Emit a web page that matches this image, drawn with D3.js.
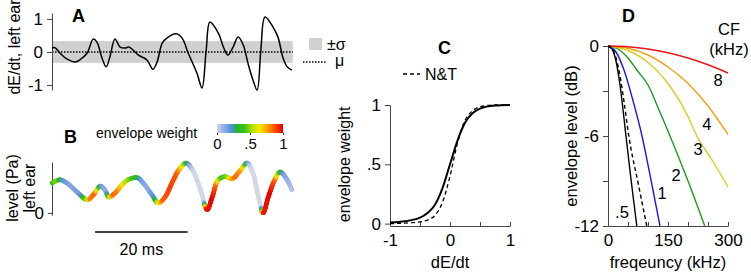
<!DOCTYPE html>
<html>
<head>
<meta charset="utf-8">
<script src="https://cdn.jsdelivr.net/npm/d3@7"></script>
<style>
  body { margin: 0; background: #fff; }
  svg { display: block; }
  text { font-family: 'Liberation Sans', Arial, Helvetica, sans-serif; }
</style>
</head>
<body>
<svg id="fig" width="751" height="274"></svg>
<script>
// ---- panel A: dE/dt of left-ear envelope (time in ms)
var aTime  = [0, 0.65, 1.7, 3.2, 5.0, 6.0, 7.6, 8.9, 9.7, 10.8, 11.7, 12.5, 13.6, 14.7, 15.8, 16.6, 17.5, 18.6, 20.5, 21.8, 22.7, 23.8, 24.8, 26.8, 28.1, 29.4, 31.3, 32.4, 33.3, 34.1, 35.9, 37.1, 38.0, 39.1, 40.2, 41.3, 42.3, 43.4, 44.3, 45.1, 46.0, 47.7, 48.8, 49.9, 50.8, 51.8];
var aSlope = [0.12, 0.13, -0.03, -0.21, -0.30, -0.24, -0.03, 0.39, 0.30, -0.18, -0.45, -0.15, 0.39, 0.15, 0.12, 0.15, 0.06, -0.09, -0.24, -0.52, -0.30, 0.27, 0.42, 0.55, 0.42, -0.03, -0.64, -1.09, 0.06, 0.91, 0.58, 0.12, -0.09, 0.15, 0.45, 0.21, -0.33, -0.85, -1.15, 0.06, 1.06, 0.76, 0.45, -0.18, -0.45, -0.55];
var aMean = 0, aSigma = 0.33;

// ---- panel B: envelope level, coloured by envelope weight
var bTime  = [0, 1.7, 3.2, 5.4, 7.6, 8.9, 10.4, 11.4, 12.3, 13.6, 15.1, 16.4, 18.4, 19.7, 21.6, 22.9, 24.4, 25.9, 27.4, 28.9, 30.2, 32.0, 33.5, 34.6, 35.9, 37.4, 38.9, 40.6, 42.1, 43.4, 44.5, 45.6, 46.7, 48.0, 49.2, 50.5, 51.8];
var bLevel = [0.57, 0.63, 0.57, 0.40, 0.25, 0.34, 0.51, 0.44, 0.30, 0.38, 0.53, 0.63, 0.67, 0.57, 0.34, 0.19, 0.30, 0.57, 0.82, 0.95, 0.84, 0.46, 0.06, 0.30, 0.63, 0.69, 0.65, 0.80, 0.95, 0.76, 0.34, 0.0, 0.30, 0.61, 0.78, 0.67, 0.44];
var wTime   = [0, 1.1, 2.4, 3.9, 6.0, 7.3, 8.2, 9.3, 10.2, 10.8, 11.7, 12.3, 13.2, 14.3, 15.6, 17.1, 18.4, 19.4, 20.7, 22.0, 22.9, 24.0, 25.5, 27.2, 28.3, 29.2, 29.8, 30.7, 32.8, 33.3, 34.6, 35.4, 36.1, 36.7, 38.0, 38.9, 39.7, 41.0, 41.7, 42.3, 43.0, 45.1, 45.6, 47.1, 48.2, 48.8, 49.5, 50.1, 51.8];
var wWeight = [0.40, 0.50, 0.20, 0.12, 0.15, 0.45, 0.80, 0.85, 0.40, 0.15, 0.10, 0.50, 0.85, 0.80, 0.60, 0.45, 0.35, 0.15, 0.10, 0.20, 0.60, 0.85, 0.90, 0.85, 0.60, 0.30, 0.10, 0.0, 0.0, 0.95, 1.0, 0.85, 0.55, 0.40, 0.50, 0.75, 0.85, 0.75, 0.45, 0.15, 0.0, 0.0, 0.95, 1.0, 0.85, 0.55, 0.30, 0.15, 0.05];
var cmapStops  = [0, 0.12, 0.22, 0.3, 0.42, 0.52, 0.64, 0.76, 0.88, 1];
var cmapColors = ["#d3d8e6", "#86a6e4", "#4f8ee0", "#22b42c", "#3cc41c", "#a8dc00", "#f2ec00", "#ffa400", "#ff4a00", "#e60000"];
var scaleBarMs = [9.3, 29.3];

// ---- panel C: weighting function
var cSlope = [-1, -0.75, -0.5, -0.375, -0.25, -0.125, 0, 0.125, 0.25, 0.375, 0.5, 0.75, 1];
var cFit   = [0.01, 0.02, 0.05, 0.09, 0.16, 0.30, 0.50, 0.70, 0.85, 0.93, 0.97, 0.995, 1.0];
var cNT    = [0.0, 0.005, 0.015, 0.03, 0.07, 0.18, 0.40, 0.68, 0.87, 0.95, 0.985, 1.0, 1.0];

// ---- panel D: envelope level vs frequency for each CF (kHz)
var dCF     = [".5", "1", "2", "3", "4", "8"];
var dColors = ["#000000", "#1a1adc", "#1e9a1e", "#d8cc20", "#f5a010", "#e8141c"];
var dFreq = [
  [0, 10, 20, 30, 45, 58, 72],
  [0, 20, 40, 60, 85, 108, 130],
  [0, 25, 50, 75, 100, 125, 155, 200, 242],
  [0, 50, 100, 150, 200, 222, 260, 300],
  [0, 50, 100, 150, 200, 250, 300],
  [0, 50, 100, 150, 200, 250, 300]
];
var dLevel = [
  [0, -0.2, -1.0, -2.6, -6, -9, -12],
  [0, -0.4, -1.6, -3.4, -6, -9, -12],
  [0, -0.2, -0.8, -1.7, -2.6, -4.1, -6, -9, -12],
  [0, -0.3, -1.1, -2.5, -4.7, -6, -7.6, -9.4],
  [0, -0.15, -0.6, -1.4, -2.5, -4.0, -5.9],
  [0, -0.05, -0.2, -0.45, -0.8, -1.25, -1.8]
];
var ntFreq  = [0, 10, 20, 30, 40, 52, 75, 97];
var ntLevel = [0, -0.15, -0.8, -2.0, -3.7, -6, -9.1, -12];
var dLabelFreq  = [35, 135, 170, 225, 247, 275];
var dLabelLevel = [-11.1, -9.8, -8.6, -6.9, -5.2, -2.3];

var svg = d3.select("#fig");
svg.append("rect").attr("width", 751).attr("height", 274).attr("fill", "#fff");

var AX = "#444";
var TICK = 17;
function styleAxis(g, size) {
  g.select(".domain").attr("stroke", AX).attr("stroke-width", 1);
  g.selectAll(".tick line").attr("stroke", AX);
  g.selectAll(".tick text").attr("fill", "#000").style("font-size", (size || TICK) + "px");
  g.attr("font-family", null);
}
function fmt(d) { return String(d).replace(/^0\./, ".").replace(/^-0\./, "-."); }
function label(x, y, txt, size, opts) {
  opts = opts || {};
  var t = svg.append("text").attr("x", x).attr("y", y).text(txt)
    .style("font-size", size + "px").attr("text-anchor", opts.anchor || "start");
  if (opts.bold) t.style("font-weight", "bold");
  if (opts.rotate) t.attr("transform", "rotate(-90," + x + "," + y + ")");
  if (opts.fill) t.attr("fill", opts.fill);
  return t;
}

// ================= A
var xT = d3.scaleLinear().domain([0, 52]).range([52, 292.8]);
var yA = d3.scaleLinear().domain([-1.15, 1.18]).range([90, 13]);

svg.append("rect")
  .attr("x", xT(0)).attr("width", xT(52) - xT(0))
  .attr("y", yA(aSigma)).attr("height", yA(-aSigma) - yA(aSigma))
  .attr("fill", "#d0d0d0");
svg.append("line")
  .attr("x1", xT(0)).attr("x2", xT(52)).attr("y1", yA(aMean)).attr("y2", yA(aMean))
  .attr("stroke", "#000").attr("stroke-width", 1.5).attr("stroke-dasharray", "1.5,1.5");

var gA = svg.append("g").attr("transform", "translate(" + xT(0) + ",0)")
  .call(d3.axisLeft(yA).tickValues([-1, 0, 1]).tickFormat(fmt).tickSize(5).tickSizeOuter(0).tickPadding(4));
styleAxis(gA);

var lineA = d3.line().x(function (d, i) { return xT(aTime[i]); }).y(function (d) { return yA(d); })
  .curve(d3.curveCatmullRom.alpha(0.5));
svg.append("path").attr("d", lineA(aSlope)).attr("fill", "none")
  .attr("stroke", "#000").attr("stroke-width", 1.5);

label(14, 47, "dE/dt, left ear", 16, { anchor: "middle", rotate: true }).attr("dy", "0.35em");
label(72, 22, "A", 18, { bold: true });

// legend A
svg.append("rect").attr("x", 309).attr("y", 38).attr("width", 13).attr("height", 12).attr("fill", "#d0d0d0");
label(327, 50, "\u00b1\u03c3", 16);
svg.append("line").attr("x1", 303).attr("x2", 327).attr("y1", 62).attr("y2", 62)
  .attr("stroke", "#000").attr("stroke-width", 1.5).attr("stroke-dasharray", "1.5,1.5");
label(335, 66, "\u03bc", 16);

// ================= B
var yB = d3.scaleLinear().domain([-0.04, 0.97]).range([215, 162]);
var cmap = d3.scaleLinear().domain(cmapStops).range(cmapColors).clamp(true);
var wAt = d3.scaleLinear().domain(wTime).range(wWeight).clamp(true);

var gB = svg.append("g").attr("transform", "translate(" + xT(0) + ",0)")
  .call(d3.axisLeft(yB).tickValues([0]).tickFormat(fmt).tickSize(4).tickSizeOuter(0).tickPadding(4));
styleAxis(gB);

var lineB = d3.line().x(function (d, i) { return xT(bTime[i]); }).y(function (d) { return yB(d); })
  .curve(d3.curveCatmullRom.alpha(0.5));
var guide = svg.append("path").attr("d", lineB(bLevel)).attr("fill", "none").attr("stroke", "none");
var node = guide.node(), len = node.getTotalLength();
var segs = svg.append("g");
var prev = node.getPointAtLength(0);
for (var s = 1; s <= Math.ceil(len); s++) {
  var p = node.getPointAtLength(Math.min(s, len));
  var w = wAt(xT.invert((prev.x + p.x) / 2));
  segs.append("line").attr("x1", prev.x).attr("y1", prev.y).attr("x2", p.x).attr("y2", p.y)
    .attr("stroke", cmap(w)).attr("stroke-width", 4.5).attr("stroke-linecap", "round");
  prev = p;
}
guide.remove();

label(12, 188, "level (Pa)", 16, { anchor: "middle", rotate: true }).attr("dy", "0.35em");
label(29, 188, "left ear", 16, { anchor: "middle", rotate: true }).attr("dy", "0.35em");
label(64, 143, "B", 18, { bold: true });
label(96, 138, "envelope weight", 14);

// colour bar
var cbX = d3.scaleLinear().domain([0, 1]).range([217, 283]);
var grad = svg.append("defs").append("linearGradient").attr("id", "cb");
cmapStops.forEach(function (v, i) {
  grad.append("stop").attr("offset", (v * 100) + "%").attr("stop-color", cmapColors[i]);
});
svg.append("rect").attr("x", cbX(0)).attr("y", 124).attr("width", cbX(1) - cbX(0)).attr("height", 9)
  .attr("fill", "url(#cb)");
var gCB = svg.append("g").attr("transform", "translate(0,133)")
  .call(d3.axisBottom(cbX).tickValues([0, 0.5, 1]).tickFormat(fmt).tickSize(2).tickSizeOuter(0).tickPadding(3));
gCB.select(".domain").remove();
gCB.selectAll(".tick line").attr("stroke", AX);
gCB.selectAll(".tick text").attr("fill", "#000").style("font-size", "15px");
gCB.attr("font-family", null);

// scale bar
svg.append("line").attr("x1", xT(scaleBarMs[0])).attr("x2", xT(scaleBarMs[1]))
  .attr("y1", 232).attr("y2", 232).attr("stroke", "#000").attr("stroke-width", 1.5);
label((xT(scaleBarMs[0]) + xT(scaleBarMs[1])) / 2, 255, "20 ms", 16, { anchor: "middle" });

// ================= C
var xC = d3.scaleLinear().domain([-1, 1]).range([390, 510]);
var yC = d3.scaleLinear().domain([-0.02, 1]).range([226, 105]);

var gCy = svg.append("g").attr("transform", "translate(" + xC(-1) + ",0)")
  .call(d3.axisLeft(yC).tickValues([0, 0.5, 1]).tickFormat(fmt).tickSize(5).tickSizeOuter(0).tickPadding(4));
styleAxis(gCy);
var gCx = svg.append("g").attr("transform", "translate(0," + yC(-0.02) + ")")
  .call(d3.axisBottom(xC).tickValues([-1, -0.5, 0, 0.5, 1])
    .tickFormat(function (d) { return d % 1 === 0 ? fmt(d) : ""; })
    .tickSize(-4).tickSizeOuter(0).tickPadding(8));
styleAxis(gCx);

var lineC = d3.line().x(function (d, i) { return xC(cSlope[i]); }).y(function (d) { return yC(d); })
  .curve(d3.curveMonotoneX);
svg.append("path").attr("d", lineC(cNT)).attr("fill", "none")
  .attr("stroke", "#000").attr("stroke-width", 1.3).attr("stroke-dasharray", "4,3");
svg.append("path").attr("d", lineC(cFit)).attr("fill", "none")
  .attr("stroke", "#000").attr("stroke-width", 2);

label(350, yC(0.5), "envelope weight", 16, { anchor: "middle", rotate: true });
label(xC(0), 268, "dE/dt", 16.5, { anchor: "middle" });
label(438, 54, "C", 18, { bold: true });
svg.append("line").attr("x1", 403).attr("x2", 420).attr("y1", 74).attr("y2", 74)
  .attr("stroke", "#000").attr("stroke-width", 1.3).attr("stroke-dasharray", "4,3");
label(425, 80, "N&T", 16);

// ================= D
var xD = d3.scaleLinear().domain([0, 300]).range([608, 728]);
var yD = d3.scaleLinear().domain([-12, 0]).range([226, 46]);

var gDy = svg.append("g").attr("transform", "translate(" + xD(0) + ",0)")
  .call(d3.axisLeft(yD).tickValues([-12, -9, -6, -3, 0])
    .tickFormat(function (d) { return d % 6 === 0 ? String(d) : ""; })
    .tickSize(5).tickSizeOuter(0).tickPadding(4));
styleAxis(gDy);
var gDx = svg.append("g").attr("transform", "translate(0," + yD(-12) + ")")
  .call(d3.axisBottom(xD).tickValues([0, 50, 100, 150, 200, 250, 300])
    .tickFormat(function (d) { return d % 150 === 0 ? String(d) : ""; })
    .tickSize(-4).tickSizeOuter(0).tickPadding(8));
styleAxis(gDx);

var lineD = d3.line().x(function (d) { return xD(d[0]); }).y(function (d) { return yD(d[1]); })
  .curve(d3.curveMonotoneX);
dFreq.forEach(function (fr, k) {
  var pts = fr.map(function (f, i) { return [f, dLevel[k][i]]; });
  svg.append("path").attr("d", lineD(pts)).attr("fill", "none")
    .attr("stroke", dColors[k]).attr("stroke-width", 1.4);
  label(xD(dLabelFreq[k]), yD(dLabelLevel[k]), dCF[k], 16.5, { anchor: "middle" }).attr("dy", "0.35em");
});
svg.append("path").attr("d", lineD(ntFreq.map(function (f, i) { return [f, ntLevel[i]]; })))
  .attr("fill", "none").attr("stroke", "#000").attr("stroke-width", 1.4).attr("stroke-dasharray", "4,3");

label(577, yD(-6), "envelope level (dB)", 16.5, { anchor: "middle", rotate: true });
label(xD(150), 268, "freqeuncy (kHz)", 16.5, { anchor: "middle" });
label(622, 22, "D", 18, { bold: true });
label(729, 35, "CF", 16.5, { anchor: "middle" });
label(729, 55, "(kHz)", 16.5, { anchor: "middle" });
</script>
</body>
</html>
